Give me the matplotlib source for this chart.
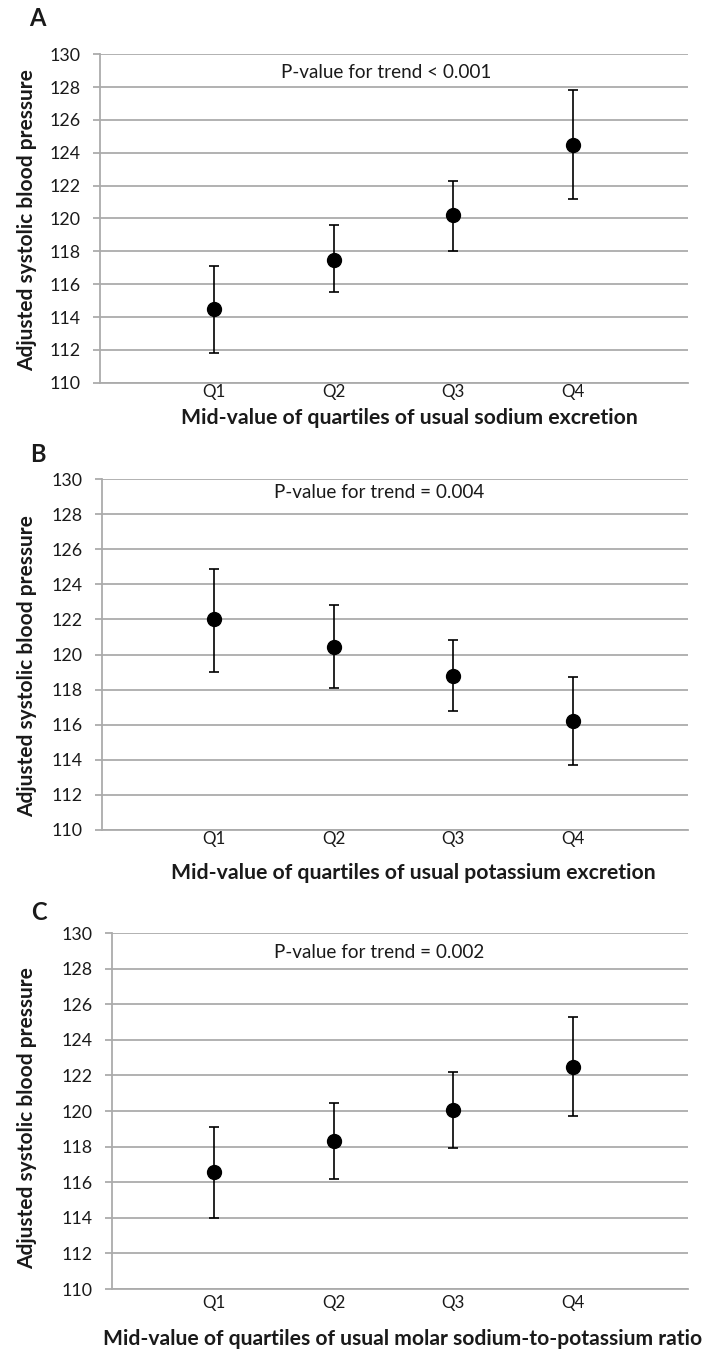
import matplotlib
matplotlib.use("Agg")
import matplotlib.pyplot as plt

plt.rcParams['font.family'] = ['Lato', 'DejaVu Sans']

categories = ["Q1", "Q2", "Q3", "Q4"]

# Panel A: sodium excretion
a_mean = [114.5, 117.5, 120.2, 124.5]
a_low = [111.8, 115.5, 118.0, 121.2]
a_high = [117.1, 119.6, 122.3, 127.8]

# Panel B: potassium excretion
b_mean = [122.0, 120.45, 118.8, 116.2]
b_low = [119.0, 118.1, 116.8, 113.7]
b_high = [124.9, 122.8, 120.85, 118.7]

# Panel C: sodium-to-potassium ratio
c_mean = [116.55, 118.3, 120.05, 122.5]
c_low = [114.0, 116.2, 117.9, 119.7]
c_high = [119.1, 120.45, 122.2, 125.3]

y_ticks = list(range(110, 131, 2))

panels = [
    dict(letter="A", mean=a_mean, low=a_low, high=a_high,
         ptext="P-value for trend < 0.001",
         xlabel="Mid-value of quartiles of usual sodium excretion",
         L=100, R=688, T=54.3, B=382.7, xl=(409, 418), xl_w=458,
         let=(37, 19), pt=(386, 72), yl=(27, 220), xpad=1.0),
    dict(letter="B", mean=b_mean, low=b_low, high=b_high,
         ptext="P-value for trend = 0.004",
         xlabel="Mid-value of quartiles of usual potassium excretion",
         L=101.7, R=688, T=479, B=830, xl=(413, 873), xl_w=486,
         let=(38, 455), pt=(379, 492), yl=(27, 666), xpad=1.0),
    dict(letter="C", mean=c_mean, low=c_low, high=c_high,
         ptext="P-value for trend = 0.002",
         xlabel="Mid-value of quartiles of usual molar sodium-to-potassium ratio",
         L=111.7, R=688, T=933, B=1289, xl=(403, 1339), xl_w=600,
         let=(39, 912), pt=(379, 953), yl=(27, 1118), xpad=4.0),
]

W, H = 709, 1353
fig = plt.figure(figsize=(W / 100, H / 100), dpi=100)
renderer = fig.canvas.get_renderer()
grid_col = "#ababab"
txt_col = "#1a1a1a"
q1_px, step_px = 214.0, 119.5


def fit_size(s, target_px, weight="normal"):
    t = fig.text(0, 0, s, fontsize=10, fontweight=weight)
    w = t.get_window_extent(renderer).width
    t.remove()
    return 10.0 * target_px / w


ytick_fs = fit_size("128", 31)
xtick_fs = fit_size("Q1", 23.5)
ylab_fs = fit_size("Adjusted systolic blood pressure", 303, "bold")
pt_fs = fit_size("P-value for trend < 0.001", 210)

for p in panels:
    L, R, T, B = p["L"], p["R"], p["T"], p["B"]
    ax = fig.add_axes([L / W, 1 - B / H, (R - L) / W, (B - T) / H])
    x = list(range(1, len(categories) + 1))
    yerr = [[m - lo for m, lo in zip(p["mean"], p["low"])],
            [hi - m for m, hi in zip(p["mean"], p["high"])]]
    ax.errorbar(x, p["mean"], yerr=yerr, fmt="o", color="black",
                markersize=10, elinewidth=1.2, capsize=3.3, capthick=1.2, zorder=3)
    ax.set_ylim(110, 130)
    ax.set_xlim(1 + (L - q1_px) / step_px, 1 + (R - q1_px) / step_px)
    ax.set_yticks(y_ticks)
    ax.set_xticks(x)
    ax.set_xticklabels(categories)
    ax.grid(axis="y", color=grid_col, linewidth=1.3, zorder=0)
    ax.set_axisbelow(True)
    for s in ["top", "right"]:
        ax.spines[s].set_visible(False)
    for s in ["left", "bottom"]:
        ax.spines[s].set_color(grid_col)
        ax.spines[s].set_linewidth(1.3)
    ax.tick_params(axis="y", length=5, width=1.3, color=grid_col, labelsize=ytick_fs,
                   pad=9.0, labelcolor=txt_col)
    ax.tick_params(axis="x", length=0, labelsize=xtick_fs, pad=p["xpad"], labelcolor=txt_col)

    fig.text(p["pt"][0] / W, 1 - p["pt"][1] / H, p["ptext"], ha="center", va="center",
             fontsize=pt_fs, color=txt_col)
    fig.text(p["yl"][0] / W, 1 - p["yl"][1] / H, "Adjusted systolic blood pressure",
             rotation=90, ha="center", va="center", fontsize=ylab_fs, fontweight="bold",
             color=txt_col)
    xl_fs = fit_size(p["xlabel"], p["xl_w"], "bold")
    fig.text(p["xl"][0] / W, 1 - p["xl"][1] / H, p["xlabel"], ha="center", va="center",
             fontsize=xl_fs, fontweight="bold", color=txt_col)
    fig.text(p["let"][0] / W, 1 - p["let"][1] / H, p["letter"], ha="center", va="center",
             fontsize=17, fontweight="bold", color=txt_col)

fig.savefig("out.png", dpi=100)
